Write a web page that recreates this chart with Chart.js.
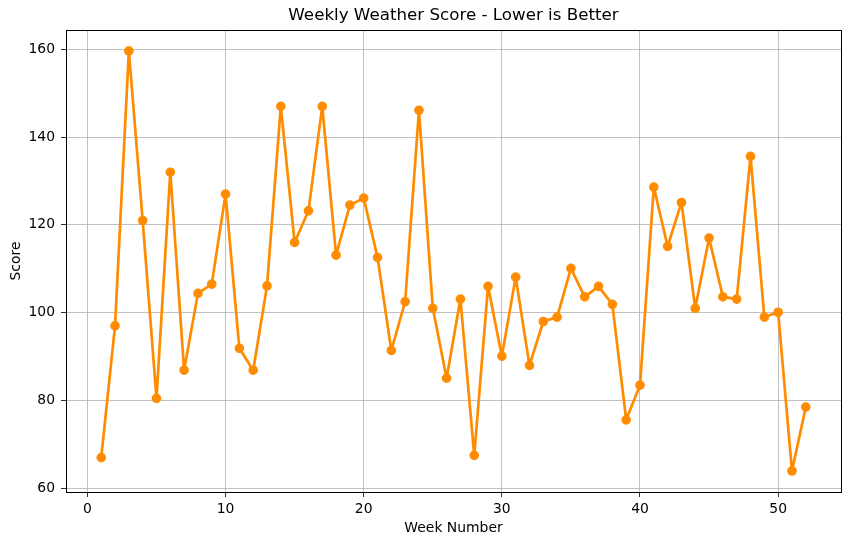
<!DOCTYPE html>
<html>
<head>
<meta charset="utf-8">
<script src="https://cdn.jsdelivr.net/npm/chart.js@4.4.0/dist/chart.umd.min.js"></script>
<style>
    html, body { margin: 0; padding: 0; background: #ffffff; }
    #wrap { width: 850px; height: 545px; }
</style>
</head>
<body>
<div id="wrap"><canvas id="chart1"></canvas></div>
<script>
// 주차별 점수
const weeks = [1,2,3,4,5,6,7,8,9,10,11,12,13,14,15,16,17,18,19,20,21,22,23,24,25,26,
    27,28,29,30,31,32,33,34,35,36,37,38,39,40,41,42,43,44,45,46,47,48,49,50,51,52];
const scores = [67, 97, 159.6, 121, 80.5, 132, 86.9, 104.4, 106.5, 127, 91.9, 86.9, 106.1, 147, 116, 123.2, 147,
    113.1, 124.5, 126.1, 112.6, 91.4, 102.5, 146.1, 101, 85.1, 103.1, 67.5, 106, 90.1, 108.1, 88, 98, 99, 110.1, 103.6,
    106, 101.9, 75.6, 83.5, 128.6, 115.1, 125.1, 101, 117, 103.6, 103.1, 135.6, 99, 100.1, 63.95, 78.5];
const xTicks = [0, 10, 20, 30, 40, 50];
const yTicks = [60, 80, 100, 120, 140, 160];

const chartTitle = 'Weekly Weather Score - Lower is Better';
const fontFamily = '"DejaVu Sans", sans-serif';

// matplotlib 기본 여백 5%
const xSpan = weeks[weeks.length - 1] - weeks[0];
const ySpan = Math.max(...scores) - Math.min(...scores);

// 상단/우측 테두리와 제목
const framePlugin = {
    id: 'frame',
    afterDraw(chart){
        const ctx = chart.ctx;
        const a = chart.chartArea;
        ctx.save();
        ctx.strokeStyle = '#000000';
        ctx.lineWidth = 1;
        ctx.strokeRect(Math.round(a.left) + 0.5, Math.round(a.top) + 0.5,
            Math.round(a.right - a.left), Math.round(a.bottom - a.top));
        ctx.fillStyle = '#000000';
        ctx.font = '16.7px ' + fontFamily;
        ctx.textAlign = 'center';
        ctx.textBaseline = 'middle';
        ctx.fillText(chartTitle, (a.left + a.right) / 2, 16);
        ctx.restore();
    }
};

const tickFont = { family: fontFamily, size: 13.9 };

new Chart(document.getElementById('chart1').getContext('2d'), {
    type: 'line',
    data: {
        datasets: [{
            data: weeks.map((w, i) => ({ x: w, y: scores[i] })),
            borderColor: '#ff8c00',
            backgroundColor: '#ff8c00',
            borderWidth: 2.7,
            borderJoinStyle: 'round',
            borderCapStyle: 'round',
            pointRadius: 4.2,
            pointBorderWidth: 1.2,
            pointHoverRadius: 4.2,
            tension: 0,
            clip: false
        }]
    },
    options: {
        responsive: true,
        maintainAspectRatio: false,
        animation: false,
        layout: { padding: { top: 30, right: 9, bottom: 0, left: 0 } },
        scales: {
            x: {
                type: 'linear',
                min: weeks[0] - xSpan * 0.05,
                max: weeks[weeks.length - 1] + xSpan * 0.05,
                afterFit(scale){ scale.height = 53; },
                afterBuildTicks(scale){ scale.ticks = xTicks.map(v => ({ value: v })); },
                grid: { color: '#b0b0b0', lineWidth: 0.8, tickColor: '#000000', tickLength: 5, drawTicks: true },
                border: { display: true, color: '#000000', width: 1 },
                ticks: { color: '#000000', font: tickFont, padding: 4, maxRotation: 0 },
                title: { display: true, text: 'Week Number', color: '#000000', font: tickFont, padding: { top: 0, bottom: 8 } }
            },
            y: {
                type: 'linear',
                min: Math.min(...scores) - ySpan * 0.05,
                max: Math.max(...scores) + ySpan * 0.05,
                afterFit(scale){ scale.width = 66; },
                afterBuildTicks(scale){ scale.ticks = yTicks.map(v => ({ value: v })); },
                grid: { color: '#b0b0b0', lineWidth: 0.8, tickColor: '#000000', tickLength: 5, drawTicks: true },
                border: { display: true, color: '#000000', width: 1 },
                ticks: { color: '#000000', font: tickFont, padding: 6 },
                title: { display: true, text: 'Score', color: '#000000', font: tickFont, padding: { top: 8, bottom: 0 } }
            }
        },
        plugins: {
            legend: { display: false },
            title: { display: false },
            tooltip: { enabled: false }
        }
    },
    plugins: [framePlugin]
});
</script>
</body>
</html>
